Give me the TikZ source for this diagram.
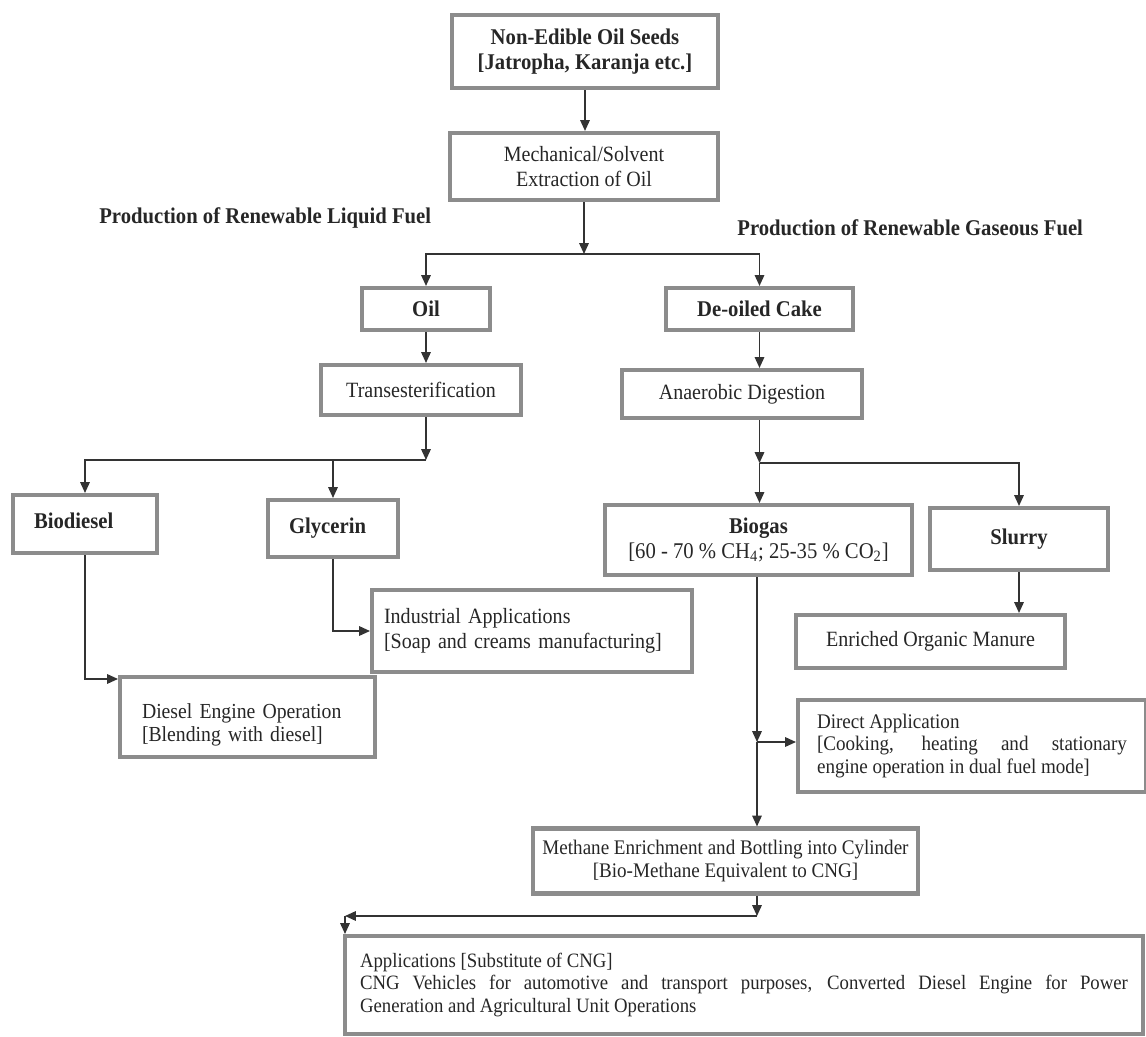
\documentclass[tikz,border=0pt]{standalone}
\usepackage{fontspec}
\setmainfont{Liberation Serif}[FakeStretch=0.92]
\usetikzlibrary{arrows.meta,calc}
\newcommand\rgf{\fontsize{12.4}{14}\selectfont}
\newcommand\smf{\fontsize{11.6}{12.8}\selectfont}
\newcommand\bdf{\fontsize{12.8}{14.2}\selectfont\bfseries}
\begin{document}
\begin{tikzpicture}[x=0.02cm,y=-0.02cm,
  box/.style={draw=black!45, line width=2.3pt, inner sep=0pt, align=center, text=black!85, font=\rgf},
  bbox/.style={box, font=\bdf},
  arr/.style={draw=black!80, line width=0.95pt, -{Triangle[length=6.2pt,width=5.4pt]}},
  lbl/.style={anchor=west, inner sep=0pt, text=black!85, font=\bdf}]
\useasboundingbox (0,0) rectangle (1146,1037);

\node[bbox, minimum width=5.32cm, minimum height=1.46cm] (seeds) at (585,51.5)
  {Non-Edible Oil Seeds\\{}[Jatropha, Karanja etc.]};
\node[box, minimum width=5.36cm, minimum height=1.34cm] (mech) at (584,166.5)
  {Mechanical/Solvent\\Extraction of Oil};

\node[lbl] (liq) at (99,218) {Production of Renewable Liquid Fuel};
\node[lbl] (gas) at (737,228) {Production of Renewable Gaseous Fuel};

\node[bbox, minimum width=2.56cm, minimum height=0.84cm] (oil) at (426,309) {Oil};
\node[bbox, minimum width=3.74cm, minimum height=0.84cm] (deoil) at (759.5,309) {De-oiled Cake};

\node[box, minimum width=4.00cm, minimum height=1.00cm] (trans) at (421,390) {Transesterification};
\node[box, minimum width=4.80cm, minimum height=0.96cm] (anaer) at (742,394) {Anaerobic Digestion};

\node[bbox, align=left, text width=2.04cm, inner xsep=0.42cm, minimum height=1.16cm, text depth=0.15cm] (biod) at (85,524) {Biodiesel};
\node[bbox, align=left, text width=1.76cm, inner xsep=0.42cm, minimum height=1.14cm, text depth=0.1cm] (glyc) at (333,528.5) {Glycerin};

\node[box, minimum width=6.14cm, minimum height=1.40cm, font=\fontsize{12.8}{14}\selectfont] (biogas) at (758.5,540)
  {\bdf Biogas\\{}[60 - 70 \% CH\textsubscript{4}; 25-35 \% CO\textsubscript{2}]};
\node[bbox, minimum width=3.56cm, minimum height=1.24cm] (slurry) at (1019,539) {Slurry};

\node[box, align=left, text width=5.92cm, inner xsep=0.24cm, minimum height=1.64cm] (indus) at (532,631)
  {Industrial Applications\\{}[Soap and creams manufacturing]};
\node[box, minimum width=5.38cm, minimum height=1.06cm] (manure) at (930.5,641.5) {Enriched Organic Manure};

\node[box, align=left, text width=4.22cm, inner xsep=0.44cm, minimum height=1.60cm, text depth=0.25cm, font=\fontsize{12.2}{13}\selectfont] (diesel) at (247.5,717)
  {Diesel Engine Operation\\{}[Blending with diesel]};

\node[box, align=justify, text width=6.2cm, inner xsep=0.38cm, minimum height=1.84cm, font=\fontsize{11.8}{12.6}\selectfont] (direct) at (972,746)
  {Direct Application\\{}[Cooking, heating and stationary\linebreak engine operation in dual fuel mode]};

\node[box, minimum width=7.70cm, minimum height=1.30cm, font=\fontsize{11.8}{12.6}\selectfont] (methane) at (725.5,861)
  {Methane Enrichment and Bottling into Cylinder\\{}[Bio-Methane Equivalent to CNG]};

\node[box, align=justify, text width=15.36cm, inner xsep=0.3cm, minimum height=1.96cm, font=\smf] (apps) at (744,985)
  {Applications [Substitute of CNG]\\CNG Vehicles for automotive and transport purposes, Converted Diesel Engine for Power\linebreak Generation and Agricultural Unit Operations};

% connectors
\draw[arr] (seeds.south) -- (seeds.south |- mech.north);
\coordinate (j1) at (584,254);
\draw[arr] (mech) -- (j1);
\draw[arr] (j1) -| (oil);
\draw[arr] (j1) -| (deoil);

\draw[arr] (oil) -- (oil |- trans.north);
\coordinate (j2) at (426,460);
\draw[arr] (oil |- trans.south) -- (j2);
\draw[arr] (j2) -| (biod);
\draw[arr] (glyc |- j2) -- (glyc);

\draw[arr] (deoil) -- (deoil |- anaer.north);
\coordinate (j3) at (759.5,463);
\draw[arr] (deoil |- anaer.south) -- (j3);
\draw[arr] (j3) -- (j3 |- biogas.north);
\draw[arr] (j3) -| (slurry);

\draw[arr] (slurry) -- (slurry |- manure.north);
\draw[arr] (glyc) |- (indus);
\coordinate (dd) at ($(diesel.north west)+(0,4)$);
\draw[arr] (biod) |- (dd);

\coordinate (j4) at (757,742);
\draw[arr] (j4 |- biogas.south) -- (j4);
\draw[arr] (j4) -- (j4 -| direct.west);
\draw[arr] (j4) -- (j4 |- methane.north);

\coordinate (j5) at (757,916);
\coordinate (j6) at (345,916);
\draw[arr] (j5 |- methane.south) -- (j5);
\draw[arr] (j5) -- (j6);
\draw[arr] (j6) -- (j6 |- apps.north);
\end{tikzpicture}
\end{document}
